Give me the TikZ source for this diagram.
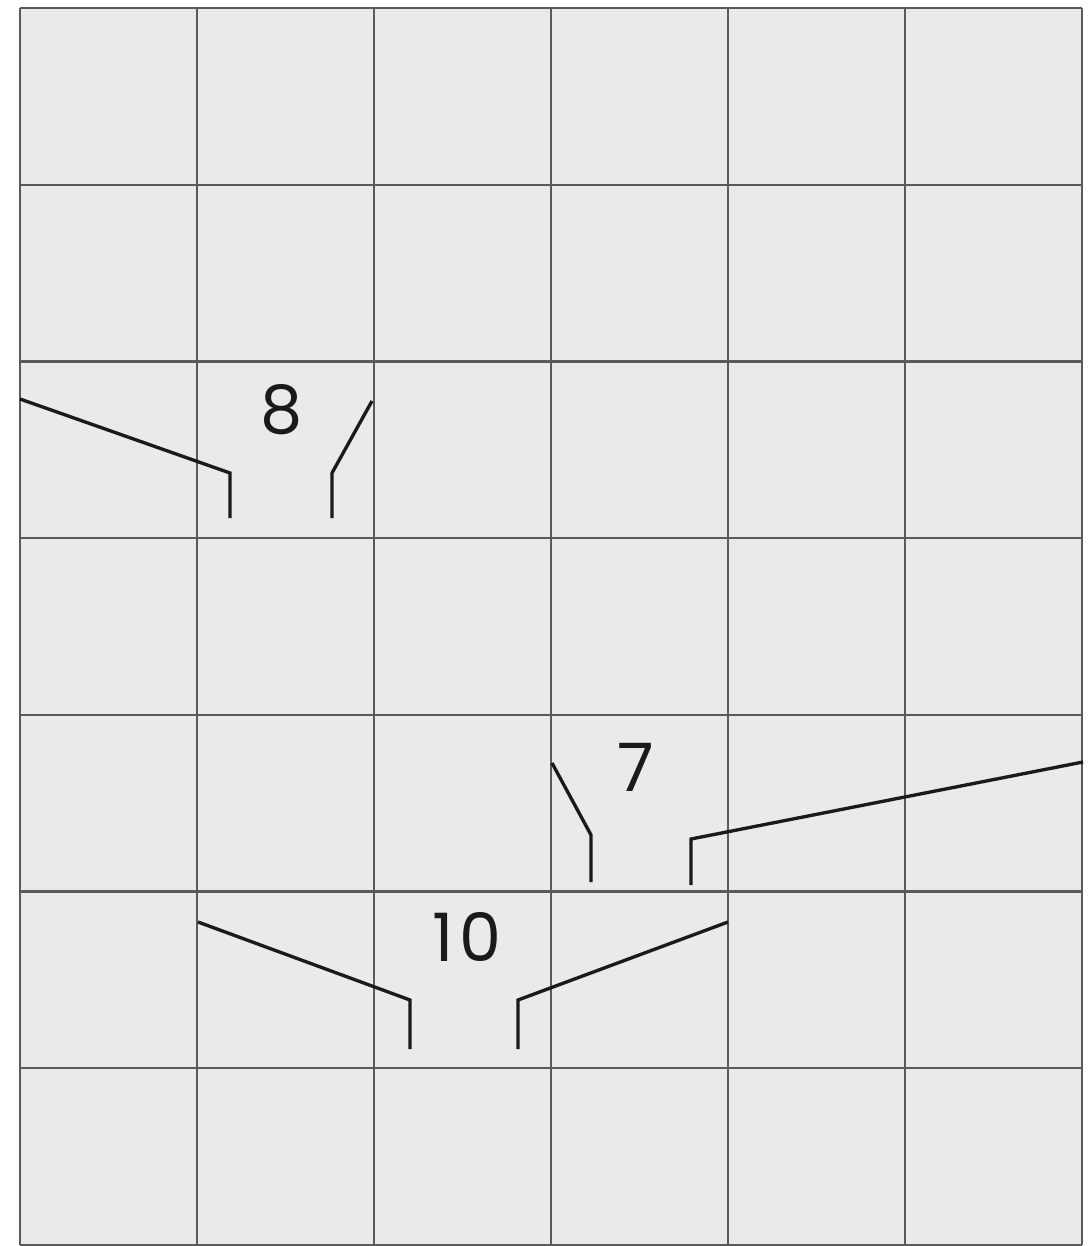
\documentclass[tikz,border=0pt]{standalone}
\usepackage{fontspec}
\setsansfont{Poppins}
\usetikzlibrary{positioning}
\definecolor{cellfill}{HTML}{EAEAEA}
\definecolor{gridgray}{HTML}{5A5A5A}
\definecolor{inkblack}{HTML}{1A1A1A}
\tikzset{
  gridline/.style={draw=gridgray, line width=0.65pt},
  bracketline/.style={draw=inkblack, line width=0.95pt},
  sizelabel/.style={
    font=\fontsize{19}{22}\selectfont\sffamily, text=inkblack, inner sep=0pt
  },
}

\begin{document}
\begin{tikzpicture}[x=0.01cm, y=-0.01cm]
  \useasboundingbox (0,0) rectangle (1091,1246);

  % Grid of cells
  \fill[cellfill] (20,8) rectangle (1082,1245);
  \foreach \col in {0,...,6}
    \draw[gridline] (20+177*\col,8) -- (20+177*\col,1245);
  \foreach \row in {0,...,7}
    \draw[gridline] (20,8+176.7*\row) -- (1082,8+176.7*\row);

  % Width 8
  \node[sizelabel] (eight) at (282,410) {8};
  \draw[bracketline] (20,399) -- (230,473) -- (230,518);
  \draw[bracketline] (372,401) -- (332,473) -- (332,518);

  % Width 7
  \node[sizelabel] (seven) at (636,767) {7};
  \draw[bracketline] (552,763) -- (591,835) -- (591,882);
  \draw[bracketline] (1083,762) -- (691,839) -- (691,885);

  % Width 10
  \node[sizelabel] (ten) at (467,937) {1\kern1.5pt0};
  \draw[bracketline] (198,922) -- (410,1000) -- (410,1049);
  \draw[bracketline] (728,922) -- (518,1000) -- (518,1049);
\end{tikzpicture}
\end{document}
